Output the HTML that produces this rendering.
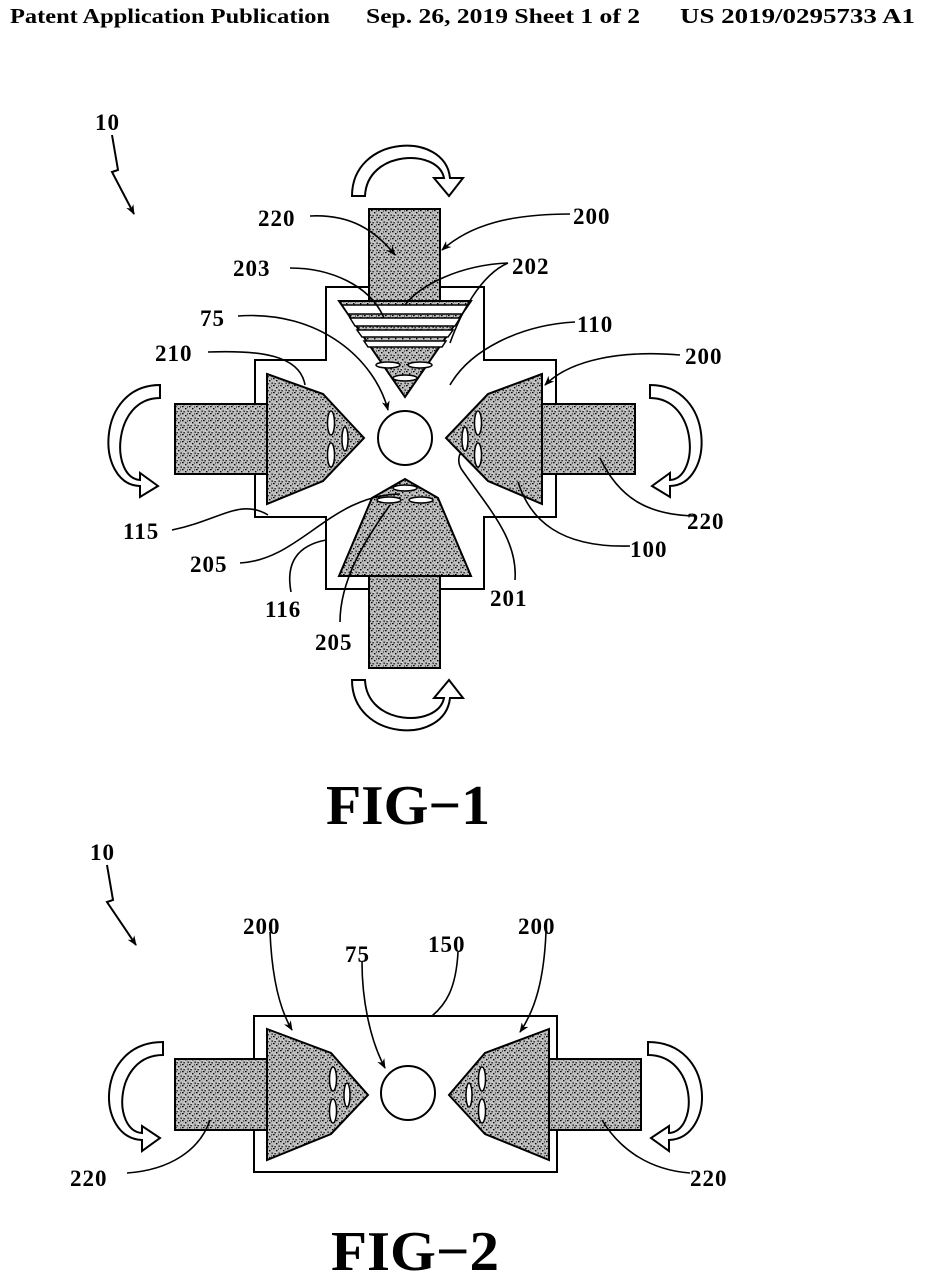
<!DOCTYPE html>
<html><head><meta charset="utf-8"><style>
html,body{margin:0;padding:0;background:#fff;}
svg{display:block;}
text{font-family:"Liberation Serif",serif;fill:#000;}
.lb{font-size:23px;letter-spacing:1px;font-weight:bold;}
</style></head><body>
<svg width="927" height="1280" viewBox="0 0 927 1280" xmlns="http://www.w3.org/2000/svg">
<defs>
<pattern id="st" width="7" height="7" patternUnits="userSpaceOnUse">
<rect width="7" height="7" fill="#bdbdbd"/>
<rect x="0" y="0" width="1.6" height="1.2" fill="#000"/>
<rect x="3" y="2" width="1.4" height="1.4" fill="#000"/>
<rect x="5.5" y="4.5" width="1.3" height="1.3" fill="#000"/>
<rect x="1.5" y="5" width="1.2" height="1.4" fill="#000"/>
<rect x="5" y="0.5" width="1" height="1" fill="#111"/>
<rect x="2.5" y="3.8" width="1" height="0.8" fill="#fff"/>
</pattern>
<marker id="ah" markerWidth="10" markerHeight="8" refX="9" refY="4" orient="auto" markerUnits="userSpaceOnUse">
<path d="M0,0 L10,4 L0,8 L3,4 Z" fill="#000"/>
</marker>
</defs>

<text x="10" y="23" font-size="21" font-weight="bold" textLength="320" lengthAdjust="spacingAndGlyphs">Patent Application Publication</text>
<text x="366" y="23" font-size="21" font-weight="bold" textLength="274" lengthAdjust="spacingAndGlyphs">Sep. 26, 2019   Sheet 1 of 2</text>
<text x="680" y="23" font-size="21" font-weight="bold" textLength="235" lengthAdjust="spacingAndGlyphs">US 2019/0295733 A1</text>

<g stroke="#000" stroke-width="2" fill="none">
<path d="M112,135 L118,170 L112,172 L134,214" marker-end="url(#ah)"/>
<path d="M326,360 L326,287 L484,287 L484,360 L556,360 L556,517 L484,517 L484,589 L326,589 L326,517 L255,517 L255,360 Z"/>
</g>

<g stroke="#000" stroke-width="2" fill="url(#st)">
<rect x="369" y="209" width="71" height="95"/>
<rect x="175" y="404" width="93" height="70"/>
<rect x="541" y="404" width="94" height="70"/>
<rect x="369" y="570" width="71" height="98"/>
<polygon points="339,301 471,301 405,397"/>
<polygon points="267,374 323,394 364,438 323,481 267,504"/>
<polygon points="542,374 488,394 446,438 488,481 542,504"/>
<polygon points="405,479 372,498 339,576 471,576 438,498"/>
</g>
<g fill="#fff" stroke="#000" stroke-width="1.5">
<path d="M342,305 L468,305 L462,314 L348,314 Z"/>
<path d="M350,318 L460,318 L455,326 L355,326 Z"/>
<path d="M357,330 L453,330 L448,337 L362,337 Z"/>
<path d="M364,341 L446,341 L442,347 L368,347 Z"/>
<ellipse cx="388" cy="365" rx="12" ry="3"/>
<ellipse cx="420" cy="365" rx="12" ry="3"/>
<ellipse cx="405" cy="378" rx="12" ry="3"/>
<ellipse cx="331" cy="423" rx="3.5" ry="12"/>
<ellipse cx="331" cy="455" rx="3.5" ry="12"/>
<ellipse cx="345" cy="439" rx="3" ry="12"/>
<ellipse cx="478" cy="423" rx="3.5" ry="12"/>
<ellipse cx="478" cy="455" rx="3.5" ry="12"/>
<ellipse cx="465" cy="439" rx="3" ry="12"/>
<ellipse cx="405" cy="488" rx="12" ry="3"/>
<ellipse cx="389" cy="500" rx="12" ry="3"/>
<ellipse cx="421" cy="500" rx="12" ry="3"/>
</g>
<circle cx="405" cy="438" r="27" fill="#fff" stroke="#000" stroke-width="2"/>

<g fill="#fff" stroke="#000" stroke-width="2">
<path d="M352,196 C352,135 445,130 450,178 L463,178 L449,196 L434,178 L444,178 C438,148 367,150 365,196 Z"/>
<path d="M352,680 C352,741 445,746 450,698 L463,698 L449,680 L434,698 L444,698 C438,728 367,726 365,680 Z"/>
<path d="M160,385 C95,385 95,485 140,486 L140,497 L158,486 L140,473 L140,480 C110,478 112,398 160,398 Z"/>
<path d="M650,385 C715,385 715,485 670,486 L670,497 L652,486 L670,473 L670,480 C700,478 698,398 650,398 Z"/>
</g>

<g stroke="#000" stroke-width="1.6" fill="none">
<path d="M310,216 C350,214 375,230 395,255" marker-end="url(#ah)"/>
<path d="M570,214 C510,214 470,225 442,250" marker-end="url(#ah)"/>
<path d="M290,268 C330,268 370,285 384,318"/>
<path d="M508,263 C460,265 420,285 405,305"/>
<path d="M508,263 C480,275 460,315 450,343"/>
<path d="M238,316 C320,310 375,360 388,410" marker-end="url(#ah)"/>
<path d="M575,322 C520,325 470,350 450,385"/>
<path d="M208,352 C260,350 300,355 305,385"/>
<path d="M680,355 C620,350 570,360 545,385" marker-end="url(#ah)"/>
<path d="M695,516 C650,515 620,500 600,458"/>
<path d="M630,546 C560,548 530,520 518,482"/>
<path d="M515,580 C518,540 490,510 462,470 C455,460 462,450 460,455"/>
<path d="M172,530 C220,520 240,498 268,515"/>
<path d="M240,563 C300,560 330,495 400,494"/>
<path d="M291,592 C285,560 300,545 326,540"/>
<path d="M340,622 C340,580 365,540 390,505"/>
</g>

<g class="lb">
<text x="95" y="130">10</text>
<text x="258" y="226">220</text>
<text x="573" y="224">200</text>
<text x="233" y="276">203</text>
<text x="512" y="274">202</text>
<text x="200" y="326">75</text>
<text x="577" y="332">110</text>
<text x="155" y="361">210</text>
<text x="685" y="364">200</text>
<text x="687" y="529">220</text>
<text x="630" y="557">100</text>
<text x="490" y="606">201</text>
<text x="123" y="539">115</text>
<text x="190" y="572">205</text>
<text x="265" y="617">116</text>
<text x="315" y="650">205</text>
</g>
<text x="408" y="824" font-size="56" font-weight="bold" text-anchor="middle" textLength="164" lengthAdjust="spacingAndGlyphs">FIG−1</text>

<g stroke="#000" stroke-width="2" fill="none">
<path d="M107,865 L113,900 L107,902 L136,945" marker-end="url(#ah)"/>
<rect x="254" y="1016" width="303" height="156"/>
</g>
<g stroke="#000" stroke-width="2" fill="url(#st)">
<rect x="175" y="1059" width="93" height="71"/>
<rect x="549" y="1059" width="92" height="71"/>
<polygon points="267,1029 331,1053 368,1095 331,1134 267,1160"/>
<polygon points="549,1029 485,1053 449,1095 485,1134 549,1160"/>
</g>
<g fill="#fff" stroke="#000" stroke-width="1.5">
<ellipse cx="333" cy="1079" rx="3.5" ry="12"/>
<ellipse cx="333" cy="1111" rx="3.5" ry="12"/>
<ellipse cx="347" cy="1095" rx="3" ry="12"/>
<ellipse cx="482" cy="1079" rx="3.5" ry="12"/>
<ellipse cx="482" cy="1111" rx="3.5" ry="12"/>
<ellipse cx="469" cy="1095" rx="3" ry="12"/>
</g>
<circle cx="408" cy="1093" r="27" fill="#fff" stroke="#000" stroke-width="2"/>
<g fill="#fff" stroke="#000" stroke-width="2">
<path d="M163,1042 C95,1042 95,1138 142,1140 L142,1151 L160,1138 L142,1126 L142,1133 C112,1131 114,1055 163,1055 Z"/>
<path d="M648,1042 C716,1042 716,1138 669,1140 L669,1151 L651,1138 L669,1126 L669,1133 C699,1131 697,1055 648,1055 Z"/>
</g>
<g stroke="#000" stroke-width="1.6" fill="none">
<path d="M270,932 C272,980 280,1010 292,1030" marker-end="url(#ah)"/>
<path d="M546,932 C544,980 535,1010 520,1032" marker-end="url(#ah)"/>
<path d="M362,962 C362,1000 370,1040 385,1068" marker-end="url(#ah)"/>
<path d="M458,952 C456,990 445,1005 432,1016"/>
<path d="M127,1173 C170,1170 200,1150 210,1120"/>
<path d="M690,1173 C650,1170 620,1150 602,1120"/>
</g>
<g class="lb">
<text x="90" y="860">10</text>
<text x="243" y="934">200</text>
<text x="345" y="962">75</text>
<text x="428" y="952">150</text>
<text x="518" y="934">200</text>
<text x="70" y="1186">220</text>
<text x="690" y="1186">220</text>
</g>
<text x="415" y="1270" font-size="56" font-weight="bold" text-anchor="middle" textLength="168" lengthAdjust="spacingAndGlyphs">FIG−2</text>
</svg>
</body></html>
